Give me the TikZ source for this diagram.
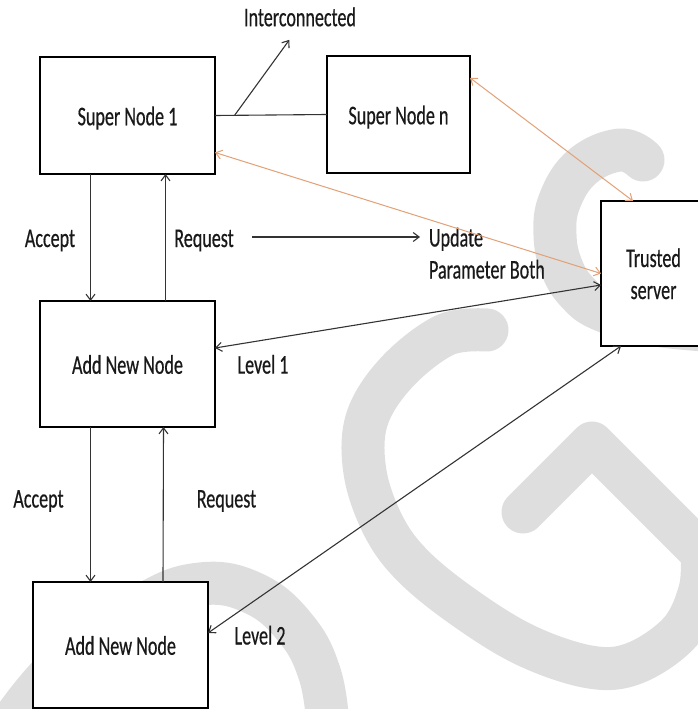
\documentclass[tikz,border=0pt]{standalone}
\usepackage{fontspec}
\setmainfont{Carlito}[FakeStretch=0.67,FakeBold=0.5]
\usetikzlibrary{arrows.meta,calc}
\definecolor{wmgray}{RGB}{222,222,222}
\definecolor{linkorange}{RGB}{226,160,118}
\begin{document}
\begin{tikzpicture}[x=1pt,y=-1pt,
  wm/.style={draw=wmgray, line width=43pt, line cap=round, line join=round},
  boxnode/.style={draw=black, line width=1.9pt, fill=white, outer sep=0pt, inner sep=0pt, text height=19.5pt, text depth=0pt, text=black!90},
  lbl/.style={inner sep=0pt, outer sep=0pt, text=black!90},
  conn/.style={draw=black!80, line width=1.1pt},
  oconn/.style={draw=linkorange, line width=1pt},
  arrowend/.style={-{Straight Barb[length=6pt,width=9pt]}},
  arrowboth/.style={{Straight Barb[length=6pt,width=9pt]}-{Straight Barb[length=6pt,width=9pt]}},
  every node/.style={font=\fontsize{27}{32}\selectfont}
]
\useasboundingbox (0,0) rectangle (698,709);

% watermark
\draw[wm] plot[smooth, tension=0.7] coordinates {(643,160) (620,150) (583,166) (560,200) (555,235) (562,268) (578,293) (602,310) (650,324) (705,330)};
\draw[wm] (523,512) -- (592,443) -- (702,553) -- plot[smooth, tension=0.6] coordinates {(702,553) (700,590) (680,632) (635,663) (590,667) (525,645) (462,606) (412,565) (383,525) (365,472) (367,419) (397,372) (445,335) (487,330)};
\draw[wm] plot[smooth, tension=0.7] coordinates {(10,725) (60,665) (140,607) (200,584) (255,594) (297,630) (320,675) (328,725)};

% boxes
\node[boxnode, minimum width=175pt, minimum height=117pt] (sn1) at (127.5,115.5) {Super Node 1};
\node[boxnode, minimum width=143pt, minimum height=117pt] (snn) at (398.5,114.5) {Super Node n};
\node[boxnode, minimum width=175pt, minimum height=126pt] (ann1) at (127.5,364) {Add New Node};
\node[boxnode, minimum width=175pt, minimum height=126pt] (ann2) at (120.5,645) {Add New Node};
\node[boxnode, minimum width=105pt, minimum height=145pt] (ts) at (653.5,273.5) {};
\node[lbl, anchor=base] (tstext) at (653.5,267) {\begin{tabular}[t]{@{}c@{}}Trusted\\server\end{tabular}};

% labels
\node[lbl, anchor=base] (icl) at (300,26.2) {Interconnected};
\node[lbl, anchor=base] (acc1) at (50,247) {Accept};
\node[lbl, anchor=base] (req1) at (204,247) {Request};
\node[lbl, anchor=base west] (upd) at (429,246.5) {\begin{tabular}[t]{@{}l@{}}Update\\Parameter Both\end{tabular}};
\node[lbl, anchor=base] (lv1) at (263,373.6) {Level 1};
\node[lbl, anchor=base] (acc2) at (38.5,507.5) {Accept};
\node[lbl, anchor=base] (req2) at (226.5,507.5) {Request};
\node[lbl, anchor=base] (lv2) at (260,644.5) {Level 2};

% connectors
\draw[conn] (sn1.east) -- (snn.west);
\coordinate (icp) at ($(sn1.east)!0.175!(snn.west)$);
\draw[conn, arrowend] (icp) -- ([xshift=-10.6pt,yshift=-13.6pt]icl.base);
\draw[conn, arrowend] ([xshift=-37pt]sn1.south) -- ([xshift=-37pt]ann1.north);
\draw[conn, arrowend] ([xshift=38pt]ann1.north) -- ([xshift=38pt]sn1.south);
\draw[conn, arrowend] ([xshift=-37pt]ann1.south) -- ([xshift=-30pt]ann2.north);
\draw[conn, arrowend] ([xshift=42.5pt]ann2.north) -- ([xshift=36pt]ann1.south);
\draw[conn, arrowend] ([xshift=18.4pt,yshift=10pt]req1.base east) -- ([xshift=-9pt,yshift=9.5pt]upd.base west);
\draw[oconn, arrowboth] ([yshift=-37pt]sn1.east) -- (ts.west);
\draw[oconn, arrowboth] ([yshift=36.7pt]snn.east) -- ([xshift=-20.5pt]ts.north);
\draw[conn, arrowboth] ([yshift=16pt]ann1.east) -- ([yshift=-11.5pt]ts.west);
\draw[conn, arrowboth] ([yshift=12pt]ann2.east) -- ([xshift=-32.5pt]ts.south);
\end{tikzpicture}
\end{document}
